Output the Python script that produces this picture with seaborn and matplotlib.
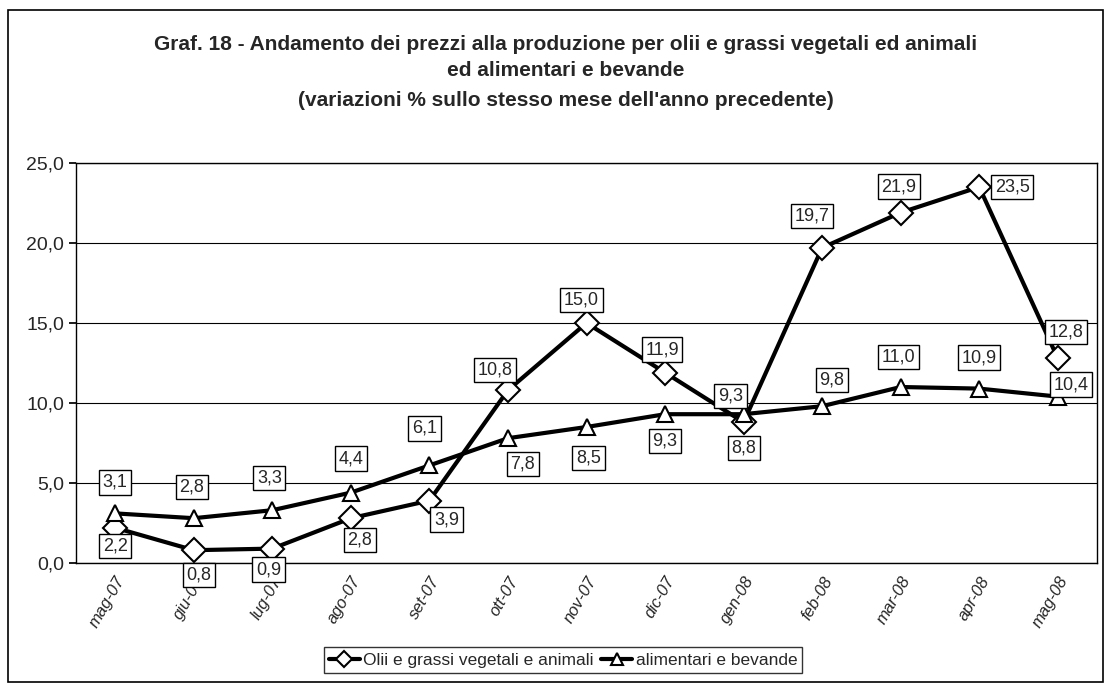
import matplotlib
matplotlib.use("Agg")
import matplotlib.pyplot as plt
import seaborn as sns
import pandas as pd
from matplotlib.patches import Rectangle

months = ["mag-07", "giu-07", "lug-07", "ago-07", "set-07", "ott-07", "nov-07",
          "dic-07", "gen-08", "feb-08", "mar-08", "apr-08", "mag-08"]
olii = [2.2, 0.8, 0.9, 2.8, 3.9, 10.8, 15.0, 11.9, 8.8, 19.7, 21.9, 23.5, 12.8]
alimentari = [3.1, 2.8, 3.3, 4.4, 6.1, 7.8, 8.5, 9.3, 9.3, 9.8, 11.0, 10.9, 10.4]
series_names = ["Olii e grassi vegetali e animali", "alimentari e bevande"]
yticks = [0, 5, 10, 15, 20, 25]

# label offsets (pixels) - layout only
off_olii = [(0, -18), (5, -25), (-4, -21), (9, -22), (17, -19), (-13, 20), (-5, 23),
            (-3, 23), (0, -26), (-10, 32), (-2, 26), (33, 0), (8, 26)]
off_alim = [(0, 31), (-2, 31), (-3, 32), (0, 34), (-5, 37), (15, -26), (2, -31),
            (0, -27), (-13, 18), (10, 26), (-2, 30), (0, 31), (13, 12)]

sns.set_theme(style="white")
plt.rcParams['font.family'] = ['Liberation Sans', 'DejaVu Sans']

fig = plt.figure(figsize=(11.09, 6.88), dpi=100)
ax = fig.add_axes([76/1109, 1-563/688, (1097-76)/1109, 400/688])

x = list(range(len(months)))
df = pd.DataFrame({"x": x * 2,
                   "val": olii + alimentari,
                   "serie": [series_names[0]] * len(x) + [series_names[1]] * len(x)})

sns.lineplot(data=df, x="x", y="val", hue="serie", style="serie",
             markers={series_names[0]: "D", series_names[1]: "^"},
             dashes=False, palette=["black", "black"], linewidth=3,
             markersize=12, markerfacecolor="white", markeredgecolor="black",
             markeredgewidth=1.5, ax=ax, legend=True)

def fmt(v):
    return f"{v:.1f}".replace(".", ",")

box = dict(boxstyle="square,pad=0.2", facecolor="white", edgecolor="black", linewidth=1)
for vals, offs in ((olii, off_olii), (alimentari, off_alim)):
    for xi, v, (dx, dy) in zip(x, vals, offs):
        ax.annotate(fmt(v), (xi, v), xytext=(dx, dy), textcoords="offset pixels",
                    ha="center", va="center", fontsize=13, bbox=box, zorder=5)

ax.set_xlim(-0.47, 12.25)
ax.set_ylim(0, 25)
ax.set_yticks(yticks)
ax.set_yticklabels([fmt(v) for v in yticks], fontsize=14)
ax.set_xticks(x)
ax.set_xticklabels(months, rotation=60, ha="right", rotation_mode="anchor",
                   fontsize=12, style="italic")
ax.set_xticks([i + 0.5 for i in range(-1, len(months))], minor=True)
ax.tick_params(axis="x", which="major", length=0, pad=8)
ax.tick_params(axis="x", which="minor", length=5, color="black", direction="out")
ax.tick_params(axis="y", length=5, color="black", direction="out", left=True)
ax.grid(axis="y", color="black", linewidth=0.8)
ax.set_axisbelow(True)
for s in ax.spines.values():
    s.set_color("black")
    s.set_linewidth(1)
ax.set_xlabel("")
ax.set_ylabel("")

handles, labels = ax.get_legend_handles_labels()
ax.legend(handles, labels, loc="center", bbox_to_anchor=(563/1109, 1-660/688),
          bbox_transform=fig.transFigure, ncol=2, frameon=True, fancybox=False,
          edgecolor="black", fontsize=12.5, handlelength=1.8, handletextpad=0.2,
          columnspacing=0.4, borderpad=0.3, markerscale=0.7)

title_kw = dict(ha="center", va="center", fontsize=15, fontweight="bold")
fig.text(566/1109, 1-45/688, "Graf. 18 - Andamento dei prezzi alla produzione per olii e grassi vegetali ed animali", **title_kw)
fig.text(566/1109, 1-70/688, "ed alimentari e bevande", **title_kw)
fig.text(566/1109, 1-100/688, "(variazioni % sullo stesso mese dell'anno precedente)", **title_kw)

fig.patches.append(Rectangle((8/1109, 1-682/688), (1103-8)/1109, (682-10)/688,
                             transform=fig.transFigure, fill=False,
                             edgecolor="black", linewidth=1.2))

fig.savefig("out.png", dpi=100, facecolor="white")
